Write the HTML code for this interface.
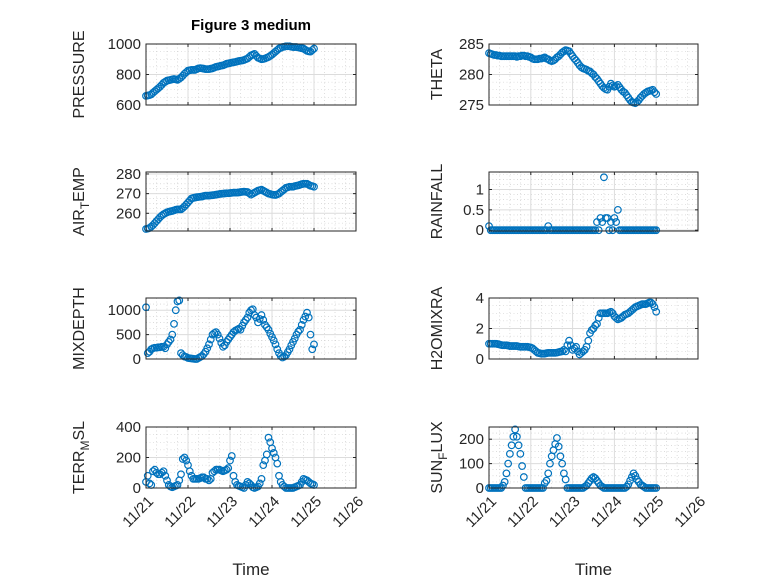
<!DOCTYPE html>
<html><head><meta charset="utf-8">
<style>
body{margin:0;background:#fff;}
svg{display:block;font-family:"Liberation Sans","DejaVu Sans",sans-serif;}
</style></head>
<body>
<svg id="fig" width="778" height="583" viewBox="0 0 778 583" xmlns="http://www.w3.org/2000/svg">
<rect width="778" height="583" fill="#fff"/>
<text x="251" y="30" text-anchor="middle" font-size="15" font-weight="bold" fill="#000">Figure 3 medium</text>
</svg>
<script>
// ---- data (hourly samples from 11/21 00:00 to 11/25 00:00) ----
const xTickLabels = ["11/21","11/22","11/23","11/24","11/25","11/26"];
const pressure = [660,662,665,670,680,690,700,710,720,732,745,752,760,762,765,768,770,768,765,772,780,792,805,815,825,828,830,830,830,835,840,842,840,838,835,835,835,838,840,845,850,852,855,858,860,865,870,872,875,878,880,882,885,888,890,892,895,900,905,915,925,930,935,922,910,905,900,902,905,910,915,922,930,940,950,960,970,975,980,982,985,985,985,982,980,980,980,978,975,972,970,962,955,952,950,960,970];
const theta = [283.5,283.4,283.3,283.2,283.2,283.1,283.1,283,283,283,283,283,283,283,283,283,282.9,283,283,283.1,283.1,283,283,282.9,282.8,282.6,282.5,282.5,282.5,282.6,282.6,282.7,282.8,282.6,282.5,282.3,282.2,282.3,282.5,282.8,283,283.3,283.6,283.8,284,283.9,283.8,283.4,283,282.6,282.3,281.9,281.5,281.2,281,280.9,280.8,280.6,280.5,280.2,280,279.6,279.3,278.9,278.5,278.1,277.8,277.6,277.5,278,278.5,278.2,278,278.1,278.3,277.9,277.5,277.2,277,276.6,276.2,275.8,275.5,275.4,275.3,275.5,275.8,276.2,276.5,276.8,277,277.2,277.3,277.4,277.5,277.1,276.8];
const airTemp = [252,252.2,252.5,253.2,254,255,256,257,258,258.8,259.5,260,260.5,260.8,261,261.2,261.5,261.8,262,262,262,262.7,263.5,264.5,265.5,266.5,267.5,267.8,268,268.2,268.3,268.4,268.5,268.8,269,269,269,269.1,269.2,269.3,269.5,269.6,269.8,269.9,270,270.1,270.2,270.2,270.3,270.4,270.5,270.5,270.5,270.6,270.8,270.9,271,270.9,270.8,270.2,269.5,270,270.5,271,271.5,271.8,272,271.5,271,270.5,270,269.8,269.5,269.4,269.3,269.6,270,270.8,271.5,272.2,273,273.2,273.5,273.5,273.5,273.8,274,274.2,274.5,274.8,275,275,275,274.5,274,273.8,273.5];
const rainfall = [0.1,0,0,0,0,0,0,0,0,0,0,0,0,0,0,0,0,0,0,0,0,0,0,0,0,0,0,0,0,0,0,0,0,0,0.1,0,0,0,0,0,0,0,0,0,0,0,0,0,0,0,0,0,0,0,0,0,0,0,0,0,0,0,0.2,0,0.3,0.2,1.3,0.3,0.3,0,0.2,0,0.3,0.2,0.5,0,0,0,0,0,0,0,0,0,0,0,0,0,0,0,0,0,0,0,0,0,0];
const mixDepth = [1060,120,150,200,220,230,230,240,240,250,250,220,300,350,400,500,720,1000,1180,1200,120,80,50,40,20,15,10,5,0,0,20,40,60,100,150,220,300,400,500,530,550,500,420,330,250,280,350,400,450,500,550,580,600,620,600,680,750,800,850,950,1000,1020,900,850,750,820,900,800,700,650,600,520,450,380,300,200,120,60,30,50,80,140,200,280,350,420,500,560,600,700,800,870,950,850,500,200,300];
const h2oMix = [1.0,1.0,1.0,1.0,1.0,0.98,0.95,0.92,0.9,0.9,0.9,0.88,0.85,0.85,0.85,0.85,0.85,0.82,0.8,0.8,0.8,0.8,0.8,0.78,0.75,0.7,0.6,0.5,0.4,0.38,0.35,0.35,0.35,0.38,0.4,0.4,0.4,0.4,0.4,0.42,0.45,0.48,0.5,0.6,0.5,0.9,1.2,0.9,0.6,0.7,0.8,0.5,0.3,0.4,0.5,0.6,0.8,1.2,1.7,1.9,2.0,2.2,2.3,2.7,3.0,3.0,3.0,3.0,3.0,3.05,3.1,3.0,2.8,2.7,2.6,2.65,2.7,2.8,2.9,2.95,3.0,3.1,3.2,3.3,3.4,3.45,3.5,3.55,3.6,3.6,3.6,3.65,3.7,3.7,3.6,3.4,3.1];
const terrMsl = [40,80,30,20,110,120,100,90,90,100,110,80,50,20,10,5,10,15,20,50,90,190,200,180,150,110,80,60,60,60,60,65,70,70,60,60,50,60,100,110,120,120,120,115,110,115,120,130,180,210,80,40,20,15,10,5,0,20,40,30,20,5,0,5,10,30,60,150,180,220,330,300,260,230,200,160,80,40,20,10,0,0,0,0,0,5,10,15,20,40,60,55,50,40,30,25,20];
const sunFlux = [0,0,0,0,0,0,0,0,10,25,60,100,140,175,210,240,210,175,140,90,45,0,0,0,0,0,0,0,0,0,0,0,20,30,60,100,130,155,180,205,170,130,100,60,35,0,0,0,0,0,0,0,0,0,0,5,10,20,30,40,45,40,30,20,10,5,0,0,0,0,0,0,0,0,0,0,0,0,0,5,15,30,45,60,50,35,25,15,10,5,0,0,0,0,0,0,0];

const NS="http://www.w3.org/2000/svg";
const svg=document.getElementById('fig');
function mk(tag,attrs,parent){const e=document.createElementNS(NS,tag);for(const k in attrs)e.setAttribute(k,attrs[k]);(parent||svg).appendChild(e);return e;}

const cols=[[146,356],[489,698]];
const rows=[[44,105],[172,231],[298,359],[427,488]];
const panels=[
 {name:'pressure',data:pressure,col:0,row:0,ymin:600,ymax:1000,ticks:[600,800,1000],label:['PRESSURE']},
 {name:'theta',data:theta,col:1,row:0,ymin:275,ymax:285,ticks:[275,280,285],label:['THETA']},
 {name:'air-temp',data:airTemp,col:0,row:1,ymin:251,ymax:281,ticks:[260,270,280],label:['AIR','T','EMP']},
 {name:'rainfall',data:rainfall,col:1,row:1,ymin:-0.02,ymax:1.43,ticks:[0,0.5,1],label:['RAINFALL']},
 {name:'mixdepth',data:mixDepth,col:0,row:2,ymin:0,ymax:1250,ticks:[0,500,1000],label:['MIXDEPTH']},
 {name:'h2omixra',data:h2oMix,col:1,row:2,ymin:0,ymax:4,ticks:[0,2,4],label:['H2OMIXRA']},
 {name:'terr-msl',data:terrMsl,col:0,row:3,ymin:0,ymax:400,ticks:[0,200,400],label:['TERR','M','SL']},
 {name:'sun-flux',data:sunFlux,col:1,row:3,ymin:0,ymax:250,ticks:[0,100,200],label:['SUN','F','LUX']}
];

panels.forEach(p=>{
  const [x0,x1]=cols[p.col],[y0,y1]=rows[p.row];
  const xs=d=>x0+(x1-x0)*d/5;
  const ys=v=>y1-(y1-y0)*(v-p.ymin)/(p.ymax-p.ymin);
  const g=mk('g',{});
  
  
  mk('rect',{x:x0,y:y0,width:x1-x0,height:y1-y0,fill:'#fff'},g);
  for(let k=1;k<20;k++){if(k%4===0)continue;const x=xs(k/4);
    mk('line',{x1:x,x2:x,y1:y0,y2:y1,stroke:'#c8c8c8','stroke-width':0.6,'stroke-dasharray':'1,2.5'},g);}
  const step=p.ticks[1]-p.ticks[0], ms=step/4;
  for(let v=Math.ceil(p.ymin/ms)*ms; v<=p.ymax+1e-9; v+=ms){
    const isMaj=p.ticks.some(t=>Math.abs(t-v)<1e-6); if(isMaj)continue;
    const y=ys(v); if(y<y0+0.5||y>y1-0.5)continue;
    mk('line',{x1:x0,x2:x1,y1:y,y2:y,stroke:'#c8c8c8','stroke-width':0.6,'stroke-dasharray':'1,2.5'},g);}
  for(let k=1;k<5;k++){const x=xs(k);mk('line',{x1:x,x2:x,y1:y0,y2:y1,stroke:'#dcdcdc','stroke-width':1},g);}
  p.ticks.forEach(t=>{const y=ys(t);if(y>y0+0.5&&y<y1-0.5)mk('line',{x1:x0,x2:x1,y1:y,y2:y,stroke:'#dcdcdc','stroke-width':1},g);});
  for(let k=0;k<=5;k++){const x=xs(k);
    mk('line',{x1:x,x2:x,y1:y1,y2:y1-3,stroke:'#262626','stroke-width':1},g);
    mk('line',{x1:x,x2:x,y1:y0,y2:y0+3,stroke:'#262626','stroke-width':1},g);}
  p.ticks.forEach(t=>{const y=ys(t);
    mk('line',{x1:x0,x2:x0+3,y1:y,y2:y,stroke:'#262626','stroke-width':1},g);
    mk('line',{x1:x1,x2:x1-3,y1:y,y2:y,stroke:'#262626','stroke-width':1},g);
    const tl=mk('text',{x:x0-5,y:y+5,'text-anchor':'end','font-size':15,fill:'#262626'},g);
    
    
    tl.textContent=String(t);});
  p.data.forEach((v,i)=>{
    const c=mk('circle',{cx:xs(i/24),cy:ys(v),r:3.3,fill:'none',stroke:'#0072BD','stroke-width':1.2},g);
    
    
  });
  mk('rect',{x:x0,y:y0,width:x1-x0,height:y1-y0,fill:'none',stroke:'#262626','stroke-width':1},g);
  const lx = p.col===0 ? x0-62 : x0-47;
  const ly=(y0+y1)/2;
  const lab=mk('text',{x:lx,y:ly,'text-anchor':'middle','font-size':16,fill:'#262626',transform:`rotate(-90 ${lx} ${ly})`},g);
  
  
  if(p.label.length===1){lab.textContent=p.label[0];}
  else{
    const a=mk('tspan',{},lab);a.textContent=p.label[0];
    const b=mk('tspan',{dy:5,'font-size':12},lab);b.textContent=p.label[1];
    const c=mk('tspan',{dy:-5},lab);c.textContent=p.label[2];
  }
  if(p.row===3){
    xTickLabels.forEach((s,k)=>{const x=xs(k),y=y1+10;
      const t=mk('text',{x:x+4,y:y+6,'text-anchor':'end','font-size':15,fill:'#262626',transform:`rotate(-45 ${x+4} ${y})`},g);
      
      
      t.textContent=s;});
    const tt=mk('text',{x:(x0+x1)/2,y:575,'text-anchor':'middle','font-size':17,fill:'#262626'},g);
    
    
    tt.textContent='Time';
  }
});
</script>
</body></html>
